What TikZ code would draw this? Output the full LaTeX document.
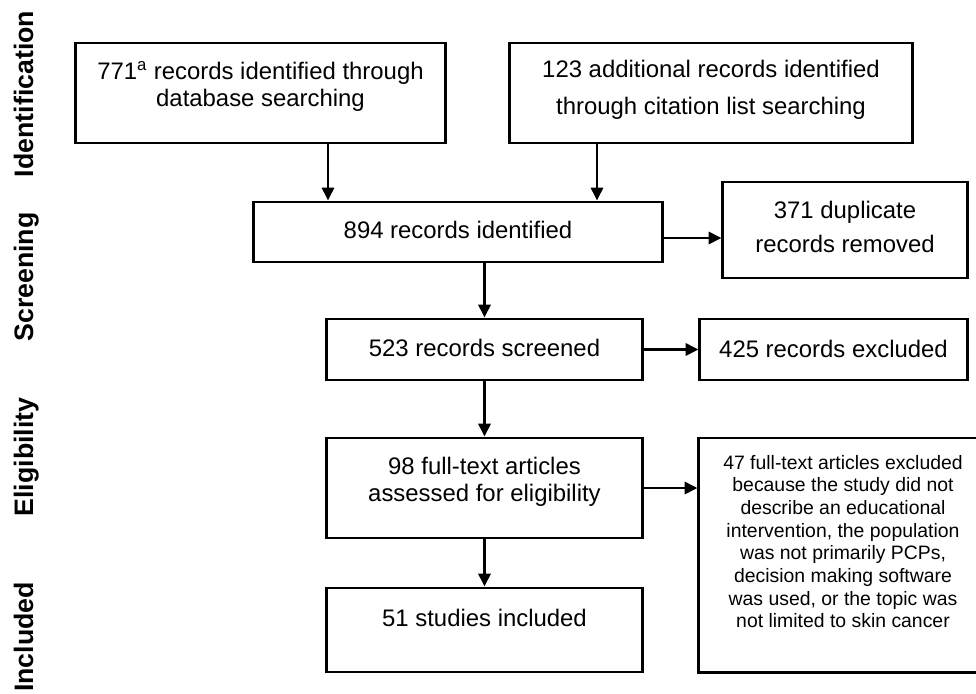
\documentclass[tikz,border=0pt]{standalone}
\usepackage{fontspec}
\setmainfont{Liberation Sans}
\usetikzlibrary{arrows.meta, positioning}

\begin{document}
\begin{tikzpicture}[x=0.025cm, y=-0.025cm,
  box/.style={draw, line width=2.1pt, align=center, inner sep=2pt,
              font=\fontsize{17}{19.2}\selectfont},
  note/.style={box, font=\fontsize{13.8}{16.1}\selectfont},
  phase/.style={rotate=90, anchor=base,
                font=\fontsize{19}{22}\selectfont\bfseries},
  arr/.style={-{Triangle[length=0.32cm, width=0.3cm]}, line width=2.1pt},
]
\useasboundingbox (0,0) rectangle (976,693);

% phase labels
\node[phase] (pident)  at (33,94)  {Identification};
\node[phase] (pscreen) at (33,277) {Screening};
\node[phase] (pelig)   at (33,457) {Eligibility};
\node[phase] (pincl)   at (33,637) {Included};

% identification
\node[box, minimum width=9.225cm, minimum height=2.5cm, text depth=0.45cm]
  (db) at (260.5,93) {771\textsuperscript{a} records identified through\\database searching};
\node[box, minimum width=10.05cm, minimum height=2.5cm, text depth=0.275cm]
  (cite) at (711,93) {123 additional records identified\\[6.7pt]through citation list searching};

% screening
\node[box, minimum width=10.2cm, minimum height=1.5cm, text depth=0.125cm]
  (merged) at (458,232) {894 records identified};
\node[box, minimum width=6.1cm, minimum height=2.4cm, text depth=0.165cm]
  (dupl) at (845,230) {371 duplicate\\[5.3pt]records removed};
\node[box, minimum width=7.875cm, minimum height=1.525cm, text depth=0.06cm]
  (screened) at (484.5,349.5) {523 records screened};
\node[box, minimum width=6.675cm, minimum height=1.525cm, text depth=0.04cm]
  (excl) at (833.5,349.5) {425 records excluded};

% eligibility
\node[box, minimum width=7.875cm, minimum height=2.5cm, text depth=0.45cm]
  (fulltext) at (484.5,488) {98 full-text articles\\assessed for eligibility};
\node[note, minimum width=7.2cm, minimum height=5.85cm, text depth=0.675cm]
  (ftexcl) at (843,555) {47 full-text articles excluded\\because the study did not\\describe an educational\\intervention, the population\\was not primarily PCPs,\\decision making software\\was used, or the topic was\\not limited to skin cancer};

% included
\node[box, minimum width=7.875cm, minimum height=2.1cm, text depth=0.615cm]
  (incl) at (484.5,630) {51 studies included};

\coordinate (ca) at (328,0);
\coordinate (cb) at (597,0);

\draw[arr] (db.south -| ca) -- (merged.north -| ca);
\draw[arr] (cite.south -| cb) -- (merged.north -| cb);
\draw[arr] ([yshift=-0.15cm]merged.east) -- ([yshift=-0.15cm]merged.east -| dupl.west);
\draw[arr] (merged.south -| screened.north) -- (screened.north);
\draw[arr] (screened.east) -- (excl.west);
\draw[arr] (screened.south) -- (fulltext.north);
\draw[arr] (fulltext.east) -- (fulltext.east -| ftexcl.west);
\draw[arr] (fulltext.south) -- (incl.north);
\end{tikzpicture}
\end{document}
